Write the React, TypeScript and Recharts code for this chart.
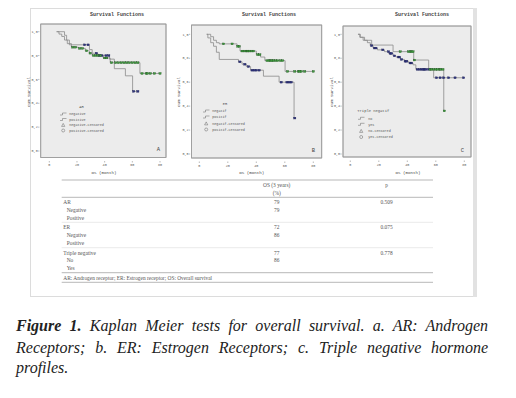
import React from 'react';
import { ComposedChart, Line, Scatter, XAxis, YAxis, ReferenceArea } from 'recharts';

// ---- Panel A: AR ----
const arNegT = [5.3, 11, 12.5, 14.5, 29, 31, 35, 43.5, 47, 55, 60.2];
const arNegS = [1.0, 0.97, 0.93, 0.89, 0.85, 0.82, 0.8, 0.77, 0.69, 0.63, 0.5];
const arNegC = [25.5, 28, 34, 36, 38, 41, 43, 61, 64];
const arPosT = [5.3, 7, 9, 11, 13, 16, 21, 26, 29, 31, 39, 44, 65.5];
const arPosS = [1.0, 0.98, 0.96, 0.93, 0.9, 0.87, 0.86, 0.84, 0.82, 0.8, 0.78, 0.74, 0.65];
const arPosC = [17, 19, 22, 24, 27, 29.5, 32, 33.5, 35, 37, 40, 41.5, 45, 48, 50, 52, 54, 56, 58, 60, 62, 64, 67, 70, 71, 73, 76, 80];

// ---- Panel B: ER ----
const erNegT = [5.2, 6, 8, 10, 12, 14, 27.5, 30, 33, 36, 45, 56, 66.5];
const erNegS = [1.0, 0.97, 0.93, 0.9, 0.85, 0.79, 0.77, 0.75, 0.73, 0.7, 0.65, 0.6, 0.3];
const erNegC = [28.5, 32, 34.5, 37, 38.5, 40, 42, 57.5, 61.5, 63, 64.5, 67];
const erPosT = [5.2, 8, 10, 12, 14, 26.5, 28.6, 40, 43, 46, 60.2];
const erPosS = [1.0, 0.98, 0.95, 0.93, 0.92, 0.9, 0.86, 0.83, 0.81, 0.78, 0.69];
const erPosC = [17, 23, 27, 28, 30, 31.5, 33, 34, 35, 36.5, 38, 41, 42.5, 47.5, 49, 50, 51, 52, 53.5, 55, 57, 58.5, 62, 67, 69.5, 70.5, 71.5, 74, 80];

// ---- Panel C: triple negative ----
const tnNoT = [5.4, 6.7, 10, 15, 30, 44.5, 55, 65.6];
const tnNoS = [1.0, 0.975, 0.95, 0.91, 0.855, 0.785, 0.707, 0.36];
const tnNoC = [35, 40.8, 42, 43, 44, 45, 56, 57, 58.5, 60, 61, 62.5, 63.5, 65, 66];
const tnYesT = [5.4, 7, 9, 12, 14, 16, 19, 24, 27, 30, 32, 35, 38, 41, 44, 46, 58.5];
const tnYesS = [1.0, 0.975, 0.95, 0.93, 0.905, 0.885, 0.87, 0.855, 0.84, 0.82, 0.81, 0.79, 0.775, 0.76, 0.745, 0.707, 0.637];
const tnYesC = [15, 17, 18, 22.8, 26.8, 28, 29, 31, 33.8, 34.5, 36, 38.5, 39.6, 42, 43, 47, 48.5, 50, 51, 52, 53, 55, 60.5, 63, 65.5, 69, 73.5, 79.5];

const xTicks = [0, 20, 40, 60, 80];
const yTicks = [0, 0.2, 0.4, 0.6, 0.8, 1.0];

const tableLabels = ['AR', 'Negative', 'Positive', 'ER', 'Negative', 'Positive', 'Triple negative', 'No', 'Yes'];
const tableOS = ['79', '79', '', '72', '86', '', '77', '86', ''];
const tableP = ['0.509', '', '', '0.075', '', '', '0.778', '', ''];

const MONO = '"Liberation Mono", "DejaVu Sans Mono", monospace';
const SERIF = '"Liberation Serif", "DejaVu Serif", serif';
const LINE = '#8a8a8a';
const NAVY = { fill: '#30357e', stroke: '#1c1f55' };
const GREEN = { fill: '#3f9c3f', stroke: '#1f4f1f' };

const levelAt = (t: number, T: number[], S: number[]) => {
  let s = S[0];
  T.forEach((tt, i) => { if (tt <= t) s = S[i]; });
  return s;
};

const buildCurve = (T: number[], S: number[], C: number[], col: any) => {
  const end = Math.max(T[T.length - 1], ...C);
  const line = T.map((t, i) => ({ t, s: S[i] }));
  line.push({ t: end, s: levelAt(end, T, S) });
  const cens = C.map((t) => ({ t, s: levelAt(t, T, S) }));
  return { line, cens, col };
};

const panels = [
  {
    id: 'A', l: 40.7, r: 166, t: 24, b: 157.5, x0: 49.3, x80: 160, y1: 31.7, y0: 151,
    curves: [buildCurve(arNegT, arNegS, arNegC, NAVY), buildCurve(arPosT, arPosS, arPosC, GREEN)],
  },
  {
    id: 'B', l: 191.5, r: 321.7, t: 25, b: 158, x0: 199.3, x80: 313.3, y1: 34.3, y0: 154,
    curves: [buildCurve(erNegT, erNegS, erNegC, NAVY), buildCurve(erPosT, erPosS, erPosC, GREEN)],
  },
  {
    id: 'C', l: 343, r: 471, t: 26, b: 157, x0: 350.3, x80: 464.3, y1: 34.3, y0: 154,
    curves: [buildCurve(tnYesT, tnYesS, tnYesC, NAVY), buildCurve(tnNoT, tnNoS, tnNoC, GREEN)],
  },
];

const XTick = (p: any) => (
  <g>
    <line x1={p.x} x2={p.x} y1={p.y + 3.5} y2={p.y + 5} stroke="#777" strokeWidth={0.5} />
    <text x={p.x} y={p.y + 8.6} textAnchor="middle" fontSize={3.4} fontFamily={MONO} fill="#555">
      {p.payload.value}
    </text>
  </g>
);

const YTick = (p: any) => (
  <g>
    <line x1={p.x - 2.6} x2={p.x - 1.3} y1={p.y} y2={p.y} stroke="#777" strokeWidth={0.5} />
    <text x={p.x - 3} y={p.y + 1.2} textAnchor="end" fontSize={3.4} fontFamily={MONO} fill="#555">
      {Number(p.payload.value).toFixed(1).replace('.', ',')}
    </text>
  </g>
);

const censorShape = (col: any) => (p: any) => (
  <rect x={p.cx - 1.1} y={p.cy - 0.9} width={2.2} height={1.8} fill={col.fill} stroke={col.stroke} strokeWidth={0.35} />
);

const KMPanel = ({ g }: { g: any }) => {
  const pxX = (g.x80 - g.x0) / 80;
  const pxY = g.y0 - g.y1;
  const xDom = [(g.l - g.x0) / pxX, (g.r - g.x0) / pxX];
  const yDom = [-(g.b - g.y0) / pxY, 1 + (g.y1 - g.t) / pxY];
  return (
    <div style={{ position: 'absolute', left: 0, top: 0 }}>
      <ComposedChart width={516} height={300} margin={{ left: g.l - 10, top: g.t, right: 516 - g.r, bottom: 300 - g.b - 10 }}>
        <XAxis dataKey="t" type="number" domain={xDom} allowDataOverflow ticks={xTicks} interval={0}
          tickSize={0} tickMargin={0} axisLine={false} tickLine={false} tick={XTick} height={10} />
        <YAxis type="number" domain={yDom} allowDataOverflow ticks={yTicks} interval={0}
          tickSize={0} tickMargin={0} axisLine={false} tickLine={false} tick={YTick} width={10} />
        <ReferenceArea x1={xDom[0]} x2={xDom[1]} y1={yDom[0]} y2={yDom[1]} fill="#ececec" fillOpacity={1}
          stroke="#a0a0a0" strokeWidth={0.8} ifOverflow="visible" />
        {g.curves.map((c: any, i: number) => (
          <Line key={'l' + i} data={c.line} dataKey="s" type="stepAfter" stroke={LINE} strokeWidth={0.8}
            dot={false} activeDot={false} isAnimationActive={false} />
        ))}
        {g.curves.map((c: any, i: number) => (
          <Scatter key={'s' + i} data={c.cens} dataKey="s" shape={censorShape(c.col)} isAnimationActive={false} />
        ))}
      </ComposedChart>
    </div>
  );
};

const legends = [
  { title: 'AR', tx: 81.5, ty: 106.5, anchor: 'middle', sx: 60, lx: 69.3, ys: [114, 119.5, 125, 130.5],
    items: ['negative', 'positive', 'negative-censored', 'positive-censored'] },
  { title: 'ER', tx: 225, ty: 103.5, anchor: 'middle', sx: 203, lx: 212.3, ys: [111, 117, 123.5, 129.5],
    items: ['negatif', 'positif', 'negatif-censored', 'positif-censored'] },
  { title: 'Triple negatif', tx: 357.3, ty: 111, anchor: 'start', sx: 358, lx: 368.3, ys: [118.3, 124.3, 131, 137],
    items: ['no', 'yes', 'no-censored', 'yes-censored'] },
];

const labels = [
  { title: 117, cum: 28.5, os: 104, letter: [158.3, 149.3], id: 'A' },
  { title: 269, cum: 179, os: 251.7, letter: [313.3, 150], id: 'B' },
  { title: 422, cum: 332, os: 408, letter: [462.3, 150], id: 'C' },
];

const rowY = [202.3, 210.3, 217.7, 227.3, 235.3, 242.7, 252.7, 260.3, 268];

const Overlay = () => (
  <svg width={516} height={300} style={{ position: 'absolute', left: 0, top: 0 }}>
    <rect x={30.5} y={8.5} width={444} height={288} fill="none" stroke="#dcdcdc" strokeWidth={1} />
    <rect x={473} y={8} width={4} height={289} fill="#e2e2e2" />
    {panels.map((g) => (
      <rect key={'f' + g.id} x={g.l} y={g.t} width={g.r - g.l} height={g.b - g.t} fill="none" stroke="#9c9c9c" strokeWidth={0.8} />
    ))}
    {labels.map((lb) => (
      <g key={'lb' + lb.id} fontFamily={MONO} fill="#444">
        <text x={lb.title} y={15.5} textAnchor="middle" fontSize={5} fontWeight="bold">Survival Functions</text>
        <text x={lb.cum} y={92} textAnchor="middle" fontSize={4.2} transform={`rotate(-90 ${lb.cum} 92)`} dy={1.4}>Cum Survival</text>
        <text x={lb.os} y={173.5} textAnchor="middle" fontSize={4.2}>OS (month)</text>
        <text x={lb.letter[0]} y={lb.letter[1] + 2} textAnchor="middle" fontSize={5.5}>{lb.id}</text>
      </g>
    ))}
    {legends.map((lg, k) => (
      <g key={'lg' + k} fontFamily={MONO} fill="#555">
        <text x={lg.tx} y={lg.ty + 1.3} textAnchor={lg.anchor as any} fontSize={3.8}>{lg.title}</text>
        {lg.items.map((it, i) => {
          const y = lg.ys[i];
          let sym;
          if (i < 2) sym = <path d={`M${lg.sx} ${y + 1} h2.5 v-2 h4`} fill="none" stroke="#555" strokeWidth={0.45} />;
          else if (i === 2) sym = <path d={`M${lg.sx + 3.2} ${y - 1.6} l1.6 3 h-3.2 z`} fill="none" stroke="#555" strokeWidth={0.45} />;
          else sym = <circle cx={lg.sx + 3.2} cy={y} r={1.5} fill="none" stroke="#555" strokeWidth={0.45} />;
          return (
            <g key={i}>
              {sym}
              <text x={lg.lx} y={y + 1.2} fontSize={3.4}>{it}</text>
            </g>
          );
        })}
      </g>
    ))}
    <g fontFamily={SERIF} fontSize={5.4} fill="#555">
      <line x1={61.7} x2={433} y1={180} y2={180} stroke="#888" strokeWidth={0.6} />
      <text x={276.7} y={186.8} textAnchor="middle">OS (3 years)</text>
      <text x={276.7} y={195.1} textAnchor="middle">(%)</text>
      <text x={386.6} y={186.8} textAnchor="middle">p</text>
      <line x1={61.7} x2={433} y1={197.3} y2={197.3} stroke="#888" strokeWidth={0.6} />
      {tableLabels.map((t, i) => (
        <g key={'r' + i}>
          <text x={i % 3 === 0 ? 63.3 : 66.7} y={rowY[i] + 1.8}>{t}</text>
          <text x={276.7} y={rowY[i] + 1.8} textAnchor="middle">{tableOS[i]}</text>
          <text x={386.6} y={rowY[i] + 1.8} textAnchor="middle">{tableP[i]}</text>
        </g>
      ))}
      <line x1={61.7} x2={433} y1={222.3} y2={222.3} stroke="#d4d4d4" strokeWidth={0.5} />
      <line x1={61.7} x2={433} y1={247.7} y2={247.7} stroke="#d4d4d4" strokeWidth={0.5} />
      <line x1={61.7} x2={433} y1={272.7} y2={272.7} stroke="#888" strokeWidth={0.6} />
      <text x={63.3} y={279.5}>AR: Androgen receptor; ER: Estrogen receptor; OS: Overall survival</text>
      <line x1={61.7} x2={433} y1={282.3} y2={282.3} stroke="#888" strokeWidth={0.6} />
    </g>
  </svg>
);

const capLine: React.CSSProperties = {
  position: 'absolute', left: 16, width: 472, fontFamily: SERIF, fontStyle: 'italic', fontSize: 16,
  lineHeight: '21.5px', color: '#222', textAlign: 'justify',
};

export default function App() {
  return (
    <div style={{ position: 'absolute', left: 0, top: 0, width: 516, height: 398, background: '#fff', overflow: 'hidden' }}>
      {panels.map((g) => <KMPanel key={g.id} g={g} />)}
      <Overlay />
      <div style={{ ...capLine, top: 315, textAlignLast: 'justify' }}>
        <b>Figure 1.</b> Kaplan Meier tests for overall survival. a. AR: Androgen
      </div>
      <div style={{ ...capLine, top: 337, textAlignLast: 'justify' }}>
        Receptors; b. ER: Estrogen Receptors; c. Triple negative hormone
      </div>
      <div style={{ ...capLine, top: 357 }}>profiles.</div>
    </div>
  );
}
